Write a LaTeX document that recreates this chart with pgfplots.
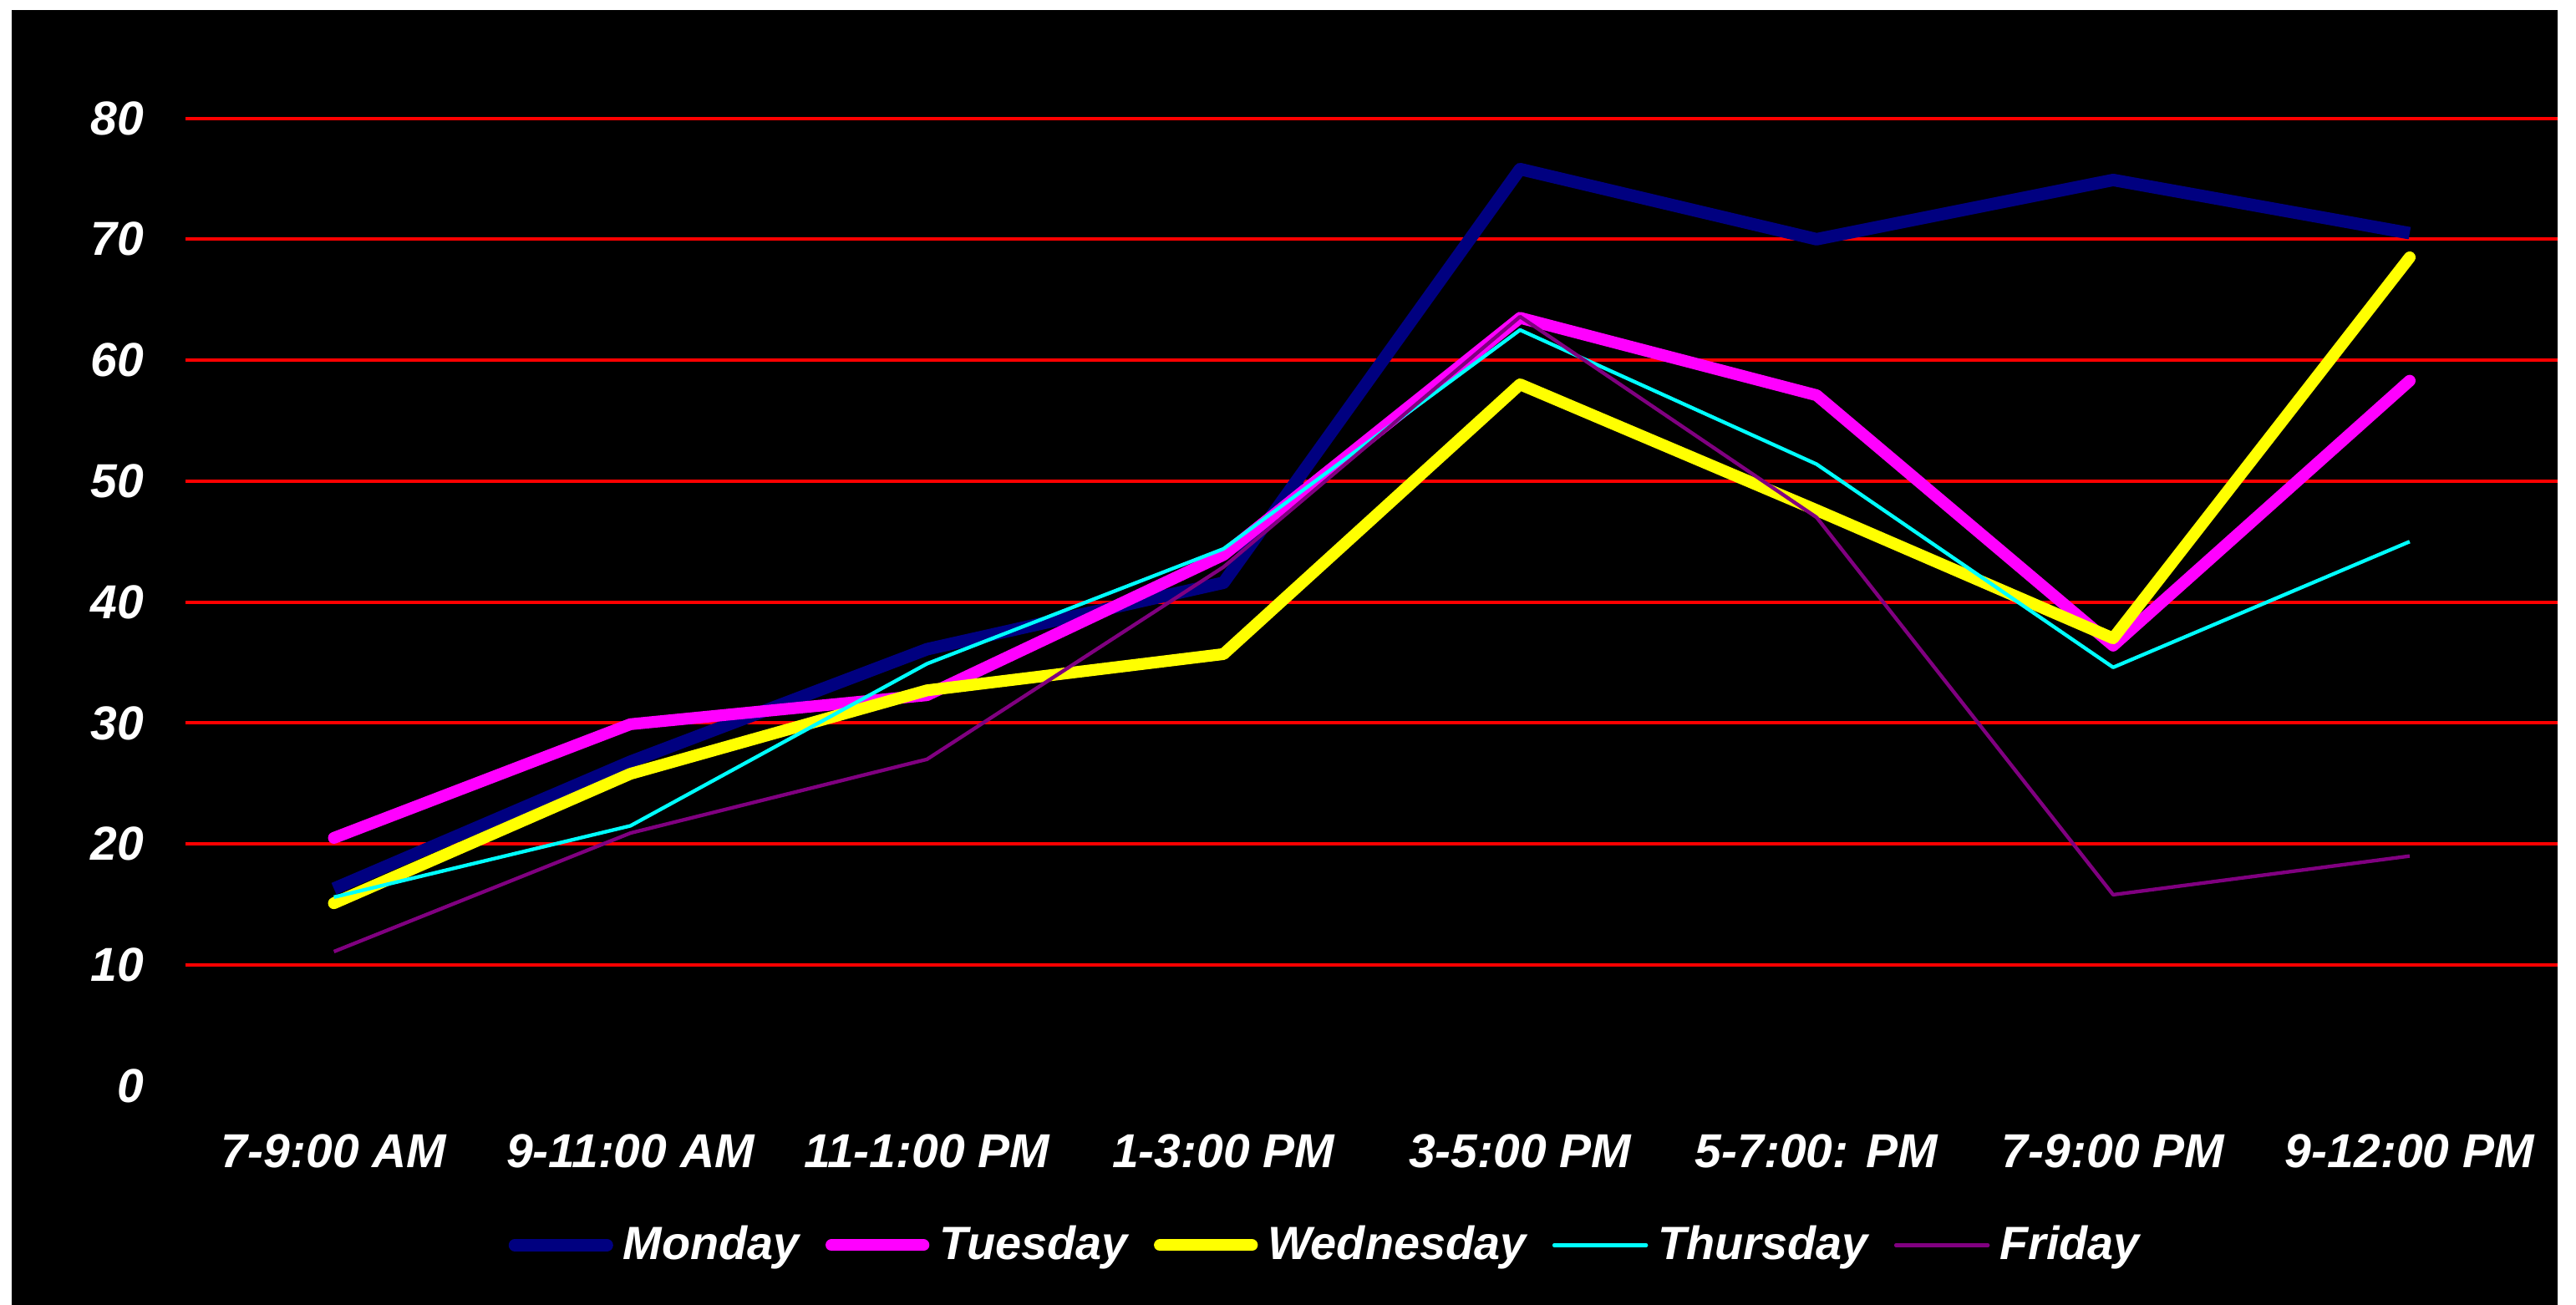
\documentclass[border=0pt]{standalone}
\usepackage{fontspec}
\setmainfont{Liberation Sans}
\usepackage{pgfplots}
\pgfplotsset{compat=1.18}
\definecolor{cMon}{RGB}{0,0,128}
\definecolor{cTue}{RGB}{255,0,255}
\definecolor{cWed}{RGB}{255,255,0}
\definecolor{cThu}{RGB}{0,255,255}
\definecolor{cFri}{RGB}{128,0,128}
\begin{document}
\begin{tikzpicture}
\useasboundingbox (0,0) rectangle (784pt,397pt);
\fill[white] (0,0) rectangle (784pt,397pt);
\fill[black] (3.5pt,-1pt) rectangle (778.5pt,394pt);
\begin{axis}[
  at={(56.5pt,66.5pt)}, anchor=south west,
  scale only axis, width=722pt, height=294.5pt,
  xmin=-0.5, xmax=7.5, ymin=0, ymax=80,
  axis line style={draw=none}, tick style={draw=none},
  xtick={0,1,2,3,4,5,6,7},
  xticklabels={{7-9:00 AM},{9-11:00 AM},{11-1:00 PM},{1-3:00 PM},{3-5:00 PM},{5-7:00: PM},{7-9:00 PM},{9-12:00 PM}},
  ytick={10,20,30,40,50,60,70,80},
  extra y ticks={0}, extra y tick style={grid=none},
  ymajorgrids, grid style={red, line width=1pt},
  /pgf/number format/assume math mode=true,
  ticklabel style={font=\fontsize{14.5}{16}\selectfont\bfseries\itshape, text=white},
  xticklabel style={anchor=center, yshift=-20pt},
  yticklabel style={anchor=east, inner sep=0pt, xshift=-12.5pt},
  legend columns=5,
  legend style={at={(0.482,-0.1647)}, anchor=center, draw=none, fill=none,
    text=white, font=\fontsize{14.2}{16}\selectfont\bfseries\itshape,
    nodes={inner xsep=3pt},
    /tikz/every even column/.append style={column sep=5pt}},
  legend image code/.code={\draw[#1, line cap=round] (0pt,0pt) -- (28pt,0pt);},
  every axis plot/.append style={line join=round},
]
\addplot[cMon, line width=3.8pt] coordinates {(0,16.3) (1,26.8) (2,36.1) (3,41.6) (4,75.8) (5,70.0) (6,74.9) (7,70.5)};
\addlegendentry{Monday}
\addplot[cTue, line width=3.6pt, line cap=round] coordinates {(0,20.5) (1,29.9) (2,32.3) (3,43.9) (4,63.5) (5,57.1) (6,36.4) (7,58.3)};
\addlegendentry{Tuesday}
\addplot[cWed, line width=3.6pt, line cap=round] coordinates {(0,15.1) (1,25.8) (2,32.7) (3,35.7) (4,58.0) (5,47.6) (6,37.0) (7,68.5)};
\addlegendentry{Wednesday}
\addplot[cThu, line width=1.1pt] coordinates {(0,15.6) (1,21.5) (2,34.9) (3,44.4) (4,62.5) (5,51.4) (6,34.6) (7,45.0)};
\addlegendentry{Thursday}
\addplot[cFri, line width=1.1pt] coordinates {(0,11.1) (1,20.9) (2,27.0) (3,42.9) (4,63.6) (5,47.0) (6,15.8) (7,19.0)};
\addlegendentry{Friday}
\end{axis}
\end{tikzpicture}
\end{document}
